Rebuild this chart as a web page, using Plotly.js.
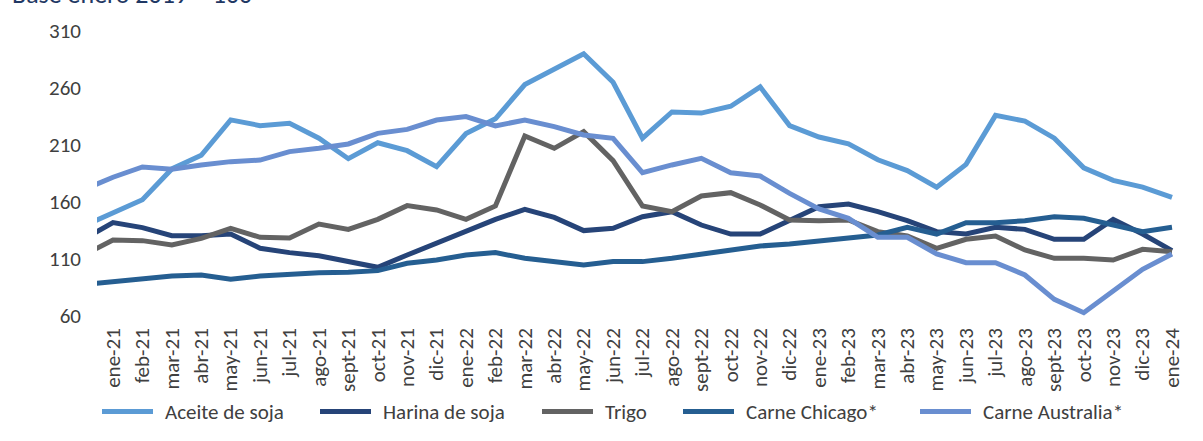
<!DOCTYPE html>
<html>
<head>
<meta charset="utf-8">
<script src="https://cdn.plot.ly/plotly-3.0.1.min.js"></script>
<style>html,body{margin:0;padding:0;background:#fff;}#chart{width:1203px;height:441px;}</style>
</head>
<body>
<div id="chart"></div>
<script>
// Months (dic-20 is only partly visible at the left edge of the plot)
const months = ["dic-20",
  "ene-21","feb-21","mar-21","abr-21","may-21","jun-21","jul-21","ago-21","sept-21","oct-21","nov-21","dic-21",
  "ene-22","feb-22","mar-22","abr-22","may-22","jun-22","jul-22","ago-22","sept-22","oct-22","nov-22","dic-22",
  "ene-23","feb-23","mar-23","abr-23","may-23","jun-23","jul-23","ago-23","sept-23","oct-23","nov-23","dic-23",
  "ene-24"];

const aceiteSoja = [139,
  150.5,162,189,201,232,227,229,216,198,212,205,191,
  220,233,263,276,290,265,216,239,238,244,261,227,
  217,211,197,187.5,173,193,236,231,216,190,179,173,
  164];
const harinaSoja = [127.4,
  141.9,137.5,130.5,130.5,131.9,119.4,115.6,112.9,107.7,102.7,113.5,123.7,
  134,144.8,153.6,146.5,134.9,136.9,147.1,151.5,139.8,131.9,131.9,144.2,
  155.9,158.2,151.5,143.6,134,131.9,137.8,136,127.3,127.3,144.8,131.9,
  117.3];
const trigo = [113.3,
  126.7,126.1,122.3,128.1,136.9,129,128.4,140.7,136,144.8,156.8,153,
  144.8,156.5,217.9,207.1,221.7,196.3,156.5,151.5,165.3,168.2,157.4,144.2,
  143.6,144.2,134,130.2,119.4,127.3,130.2,117.9,110.6,110.6,109.1,118.5,
  116.4];
const carneChicago = [87.5,
  90.1,92.2,95.1,96,92.2,95.1,96.5,98,98.3,99.8,106.2,109.1,
  113.5,115.6,110.6,107.7,104.7,107.7,107.7,110.6,114.4,117.3,121.4,123.2,
  126.1,129,131.1,137.8,131.9,141.9,141.9,143.6,147.1,145.7,139.8,134,
  137.8];
const carneAustralia = [170.8,
  181.7,190.7,188.7,192.5,195.4,196.8,204.2,207.1,210.9,220.2,223.7,231.9,
  234.9,226.7,231.9,226.1,218.8,215.8,185.7,192.5,198.3,185.7,182.8,167.6,
  154,145.7,129,129,114.4,106.8,106.8,96,74.6,62.9,81.3,101,
  114.4];

const seriesNames = ["Aceite de soja","Harina de soja","Trigo","Carne Chicago*","Carne Australia*"];
const seriesColors = ["#5B9BD5","#264478","#636363","#255E91","#698ED0"];
const seriesData = [aceiteSoja, harinaSoja, trigo, carneChicago, carneAustralia];
const yTicks = [60,110,160,210,260,310];

const FONT = "Calibri, Carlito, Lato, 'Open Sans', sans-serif";
const TXT = "#404040";

// plot-area geometry in pixels (layout only)
const W = 1203, H = 441, L = 97, R = 16, T = 31, B = 125;
const PW = W - L - R, PH = H - T - B;
const px2x = p => (p - L) / PW;
const py2y = p => (H - B - p) / PH;

const traces = seriesData.map((d,i)=>({
  type:"scatter", mode:"lines", name:seriesNames[i], x:months, y:d,
  line:{color:seriesColors[i], width:5, shape:"linear"},
  hoverinfo:"skip", showlegend:false
}));

// custom legend (long line keys as in the reference)
const legendStart = [100, 318, 540, 681, 918];
const legendY = 411.5;
const shapes = [], annotations = [];
seriesNames.forEach((n,i)=>{
  shapes.push({type:"line", xref:"paper", yref:"paper",
    x0:px2x(legendStart[i]+2), x1:px2x(legendStart[i]+53), y0:py2y(legendY), y1:py2y(legendY),
    line:{color:seriesColors[i], width:5}});
  annotations.push({text:n, xref:"paper", yref:"paper", x:px2x(legendStart[i]+63), y:py2y(legendY),
    xanchor:"left", yanchor:"middle", showarrow:false,
    font:{family:FONT, size:21, color:TXT}});
});
annotations.push({text:"Base enero 2019 = 100", xref:"paper", yref:"paper",
  x:px2x(10), y:py2y(12), xanchor:"left", yanchor:"bottom", showarrow:false,
  font:{family:FONT, size:26, color:"#1F3864"}});

const layout = {
  width:W, height:H,
  margin:{l:L, r:R, t:T, b:B, pad:0},
  paper_bgcolor:"#fff", plot_bgcolor:"#fff",
  font:{family:FONT, color:TXT, size:21},
  showlegend:false,
  xaxis:{type:"category", categoryorder:"array", categoryarray:months,
    range:[0.456, 37.51], showgrid:false, zeroline:false, showline:false,
    ticks:"", tickangle:-90, ticklabelstandoff:7,
    tickfont:{family:FONT, size:21, color:TXT}, fixedrange:true},
  yaxis:{range:[60,310], tickvals:yTicks, ticktext:yTicks.map(String),
    showgrid:false, zeroline:false, showline:false, ticks:"",
    ticklabelstandoff:15,
    tickfont:{family:FONT, size:21, color:TXT}, fixedrange:true},
  shapes:shapes,
  annotations:annotations
};

Plotly.newPlot("chart", traces, layout, {displayModeBar:false, staticPlot:true});
</script>
</body>
</html>
